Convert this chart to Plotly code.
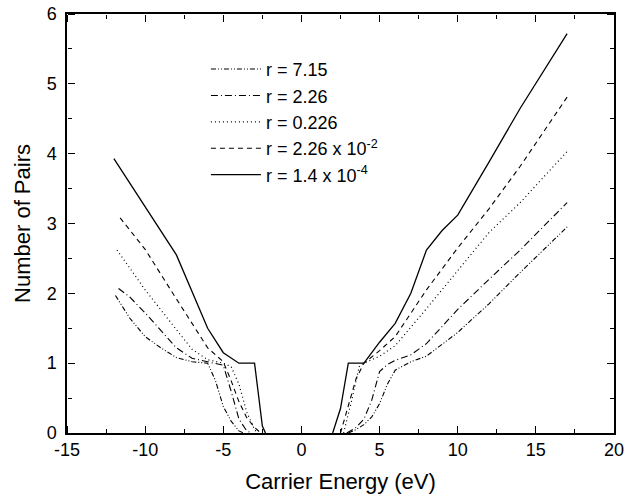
import plotly.graph_objects as go

# ---- data ----
x_7_15 = [-11.9, -11, -10, -9, -8, -7, -6, -5.5, -5, -4.5, -4, -3.7, None,
          3.0, 3.5, 4, 4.5, 5, 5.5, 6, 7, 8, 10, 12, 14, 17]
y_7_15 = [1.97, 1.65, 1.38, 1.22, 1.08, 1.02, 1.0, 0.75, 0.38, 0.17, 0.03, 0.0, None,
          0.0, 0.05, 0.12, 0.23, 0.42, 0.7, 0.9, 1.02, 1.1, 1.44, 1.85, 2.3, 2.95]

x_2_26 = [-11.7, -11, -10, -9, -8, -7, -6, -5, -4.5, -4, -3.5, -3.2, None,
          2.9, 3.5, 4, 4.5, 5, 5.5, 6, 7, 8, 10, 12, 14, 17]
y_2_26 = [2.07, 1.95, 1.72, 1.47, 1.22, 1.07, 1.02, 0.97, 0.6, 0.2, 0.03, 0.0, None,
          0.0, 0.08, 0.2, 0.47, 0.88, 0.98, 1.04, 1.12, 1.28, 1.77, 2.2, 2.62, 3.3]

x_0_226 = [-11.8, -10, -8, -7, -6, -5, -4.5, -4, -3.5, -3, -2.8, None,
           2.7, 3.2, 3.7, 4, 5, 6, 8, 10, 12, 14, 17]
y_0_226 = [2.62, 2.05, 1.48, 1.2, 1.05, 1.0, 0.95, 0.7, 0.3, 0.05, 0.0, None,
           0.0, 0.45, 0.95, 1.0, 1.1, 1.25, 1.78, 2.33, 2.87, 3.3, 4.03]

x_2_26e2 = [-11.6, -10, -8, -6, -5, -4.5, -4, -3.5, -3, -2.6, None,
            2.5, 3, 3.5, 4, 5, 6, 8, 10, 12, 14, 17]
y_2_26e2 = [3.08, 2.63, 1.92, 1.22, 1.02, 0.75, 0.45, 0.22, 0.08, 0.0, None,
            0.0, 0.4, 0.78, 1.0, 1.18, 1.38, 2.05, 2.65, 3.21, 3.82, 4.81]

x_1_4e4 = [-12, -8, -6, -5, -4, -3, -2.5, -2.3, None,
           2, 2.5, 3, 4, 5, 6, 7, 8, 9, 10, 12, 14, 17]
y_1_4e4 = [3.93, 2.55, 1.5, 1.15, 1.0, 1.0, 0.1, 0.0, None,
           0.0, 0.35, 1.0, 1.0, 1.3, 1.57, 2.0, 2.62, 2.9, 3.12, 3.88, 4.65, 5.72]

series_names = ["r = 7.15", "r = 2.26", "r = 0.226",
                "r = 2.26 x 10<sup>-2</sup>", "r = 1.4 x 10<sup>-4</sup>"]

x_tickvals = [-15, -10, -5, 0, 5, 10, 15, 20]
x_ticktext = ["-15", "-10", "-5", "0", "5", "10", "15", "20"]
y_tickvals = [0, 1, 2, 3, 4, 5, 6]

X_RANGE = [-15, 20]
Y_RANGE = [0, 6]

FONT = "Arial, 'Liberation Sans', sans-serif"

xs = [x_7_15, x_2_26, x_0_226, x_2_26e2, x_1_4e4]
ys = [y_7_15, y_2_26, y_0_226, y_2_26e2, y_1_4e4]
dashes = ["5px,2px,1px,2px,1px,2px", "7px,3px,1px,3px", "1px,3px", "5px,4px", "solid"]
widths = [1.1, 1.1, 1.2, 1.1, 1.3]

fig = go.Figure()
for i, (x, y, name, d, w) in enumerate(zip(xs, ys, series_names, dashes, widths)):
    fig.add_trace(go.Scatter(x=x, y=y, mode="lines", name=name,
                             legendgroup=f"g{i}",
                             line=dict(color="black", width=w, dash=d),
                             connectgaps=False))

# empty helper traces so that the tick-only overlay axes get drawn
for xa, ya in [("x2", "y"), ("x3", "y"), ("x", "y2"), ("x", "y3")]:
    fig.add_trace(go.Scatter(x=[None], y=[None], xaxis=xa, yaxis=ya,
                             mode="lines", showlegend=False, hoverinfo="skip"))

tick_only = dict(ticks="outside", ticklen=7, tickwidth=1.3, tickcolor="black",
                 showticklabels=False, showline=False, showgrid=False,
                 zeroline=False, anchor="free", automargin=False)

fig.update_layout(
    width=641, height=496,
    margin=dict(l=67, r=27, t=14, b=63),
    paper_bgcolor="white", plot_bgcolor="rgba(0,0,0,0)",
    font=dict(family=FONT, color="black"),
    showlegend=True,
    legend=dict(x=0.254, y=0.912, xanchor="left", yanchor="top",
                bgcolor="rgba(0,0,0,0)", borderwidth=0,
                font=dict(family=FONT, size=18, color="black"),
                tracegroupgap=0, itemwidth=50),
    xaxis=dict(range=X_RANGE, tickmode="array",
               tickvals=x_tickvals, ticktext=x_ticktext,
               showline=True, linecolor="black", linewidth=1.5, mirror=True,
               ticks="", automargin=False,
               showgrid=False, zeroline=False,
               tickfont=dict(family=FONT, size=18, color="black"),
               title=dict(text="Carrier Energy (eV)",
                          font=dict(family=FONT, size=22, color="black"),
                          standoff=14)),
    yaxis=dict(range=Y_RANGE, tickmode="array", tickvals=y_tickvals,
               showline=True, linecolor="black", linewidth=1.5, mirror=True,
               ticks="", automargin=False, ticklabelstandoff=5,
               showgrid=False, zeroline=False,
               tickfont=dict(family=FONT, size=18, color="black"),
               title=dict(text="Number of Pairs",
                          font=dict(family=FONT, size=22, color="black"),
                          standoff=10)),
    # bottom ticks pointing up into the plot
    xaxis2=dict(overlaying="x", side="top", position=0, range=X_RANGE,
                tickmode="array", tickvals=x_tickvals,
                minor=dict(ticks="outside", ticklen=4, dtick=2.5, tick0=-15,
                           tickcolor="black", tickwidth=1.2, showgrid=False),
                **tick_only),
    # top ticks pointing down into the plot
    xaxis3=dict(overlaying="x", side="bottom", position=1, range=X_RANGE,
                tickmode="array", tickvals=x_tickvals,
                minor=dict(ticks="outside", ticklen=4, dtick=2.5, tick0=-15,
                           tickcolor="black", tickwidth=1.2, showgrid=False),
                **tick_only),
    # left ticks pointing right into the plot
    yaxis2=dict(overlaying="y", side="right", position=0, range=Y_RANGE,
                tickmode="array", tickvals=y_tickvals,
                minor=dict(ticks="outside", ticklen=4, dtick=0.5, tick0=0,
                           tickcolor="black", tickwidth=1.2, showgrid=False),
                **tick_only),
    # right ticks pointing left into the plot
    yaxis3=dict(overlaying="y", side="left", position=1, range=Y_RANGE,
                tickmode="array", tickvals=y_tickvals,
                minor=dict(ticks="outside", ticklen=4, dtick=0.5, tick0=0,
                           tickcolor="black", tickwidth=1.2, showgrid=False),
                **tick_only),
)

fig.write_html("out.html")
